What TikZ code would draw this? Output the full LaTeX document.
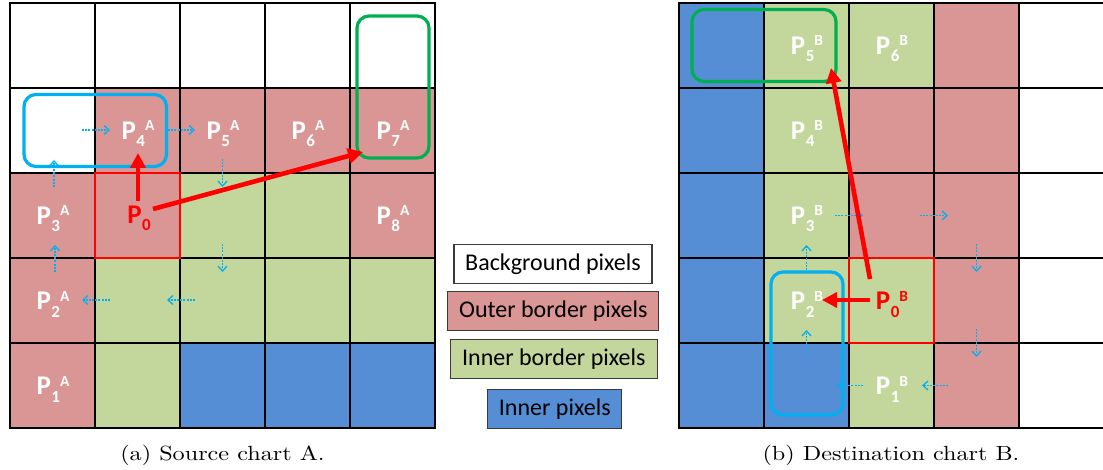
\documentclass[tikz,border=0pt]{standalone}
\usepackage{fontspec}
\newfontfamily\carl{Carlito}
\newfontfamily\lmten{lmroman10-regular.otf}
\usetikzlibrary{arrows.meta}
\definecolor{cR}{HTML}{D99694}
\definecolor{cG}{HTML}{C3D69B}
\definecolor{cB}{HTML}{558ED5}
\definecolor{cW}{HTML}{FFFFFF}
\definecolor{cyanb}{HTML}{00B0F0}
\definecolor{greenb}{HTML}{00B050}
\definecolor{redb}{HTML}{FF0000}
\definecolor{legedge}{HTML}{3A3A3A}
\newcommand\plab[2]{{\fontsize{27}{27}\selectfont P}\kern0.5pt\raisebox{-7.5pt}{\fontsize{17}{17}\selectfont #1}\raisebox{8.5pt}{\fontsize{15.5}{15.5}\selectfont #2}}
\newcommand\cellrow[7]{%
  \fill[#3] (#1,#2) rectangle ++(85,85);
  \fill[#4] (#1+85,#2) rectangle ++(85,85);
  \fill[#5] (#1+170,#2) rectangle ++(85,85);
  \fill[#6] (#1+255,#2) rectangle ++(85,85);
  \fill[#7] (#1+340,#2) rectangle ++(85,85);}
\begin{document}
\begin{tikzpicture}[x=1pt,y=-1pt,
  lab/.style={anchor=base, inner sep=0pt, text=white, font=\carl\bfseries},
  labred/.style={anchor=base, inner sep=0pt, text=redb, font=\carl\bfseries},
  gridline/.style={line width=2.4pt, black, line cap=rect},
  redbox/.style={draw=redb, line width=2pt},
  redarrow/.style={redb, line width=4.6pt, -{Triangle[length=15pt,width=15pt]}},
  cyanarrow/.style={cyanb, line width=1.7pt, dash pattern=on 2pt off 1.2pt, -{Straight Barb[length=5pt,width=9pt,line width=1.3pt]}},
  rbox/.style={line width=3.2pt, rounded corners=12pt},
  legbox/.style={draw=legedge, line width=1.1pt, inner sep=0pt, minimum height=39pt, font=\carl\fontsize{24}{24}\selectfont, text=black},
  capt/.style={anchor=base, inner sep=0pt, font=\lmten\fontsize{20.5}{24}\selectfont}
]
\useasboundingbox (0,0) rectangle (1103,470);
\fill[white] (0,0) rectangle (1103,470);
% ---- left grid cells
\cellrow{10}{3}{cW}{cW}{cW}{cW}{cW}
\cellrow{10}{88}{cW}{cR}{cR}{cR}{cR}
\cellrow{10}{173}{cR}{cR}{cG}{cG}{cR}
\cellrow{10}{258}{cR}{cG}{cG}{cG}{cG}
\cellrow{10}{343}{cR}{cG}{cB}{cB}{cB}
% ---- right grid cells
\cellrow{679}{3}{cB}{cG}{cG}{cR}{cW}
\cellrow{679}{88}{cB}{cG}{cR}{cR}{cW}
\cellrow{679}{173}{cB}{cG}{cR}{cR}{cW}
\cellrow{679}{258}{cB}{cG}{cG}{cR}{cW}
\cellrow{679}{343}{cB}{cB}{cG}{cR}{cW}
% ---- grid lines
\foreach \k in {0,...,5}{
  \draw[gridline] (10+85*\k,3) -- (10+85*\k,428);
  \draw[gridline] (10,3+85*\k) -- (435,3+85*\k);
  \draw[gridline] (679,3+85*\k) -- (1110,3+85*\k);
}
\foreach \k in {0,...,4}{
  \draw[gridline] (679+85*\k,3) -- (679+85*\k,428);
}
% ---- red outline cells
\draw[redbox] (95,173) rectangle (180,258);
\draw[redbox] (849,258) rectangle (934,343);
% ---- labels left
\node[lab] (p4a) at (138,139.5) {\plab{4}{A}};
\node[lab] (p5a) at (223,139.5) {\plab{5}{A}};
\node[lab] (p6a) at (308,139.5) {\plab{6}{A}};
\node[lab] (p7a) at (393,139.5) {\plab{7}{A}};
\node[lab] (p3a) at (53,224.5) {\plab{3}{A}};
\node[labred] (p0a) at (139,223.5) {\plab{0}{}};
\node[lab] (p8a) at (393,224.5) {\plab{8}{A}};
\node[lab] (p2a) at (53,309.5) {\plab{2}{A}};
\node[lab] (p1a) at (53,394.5) {\plab{1}{A}};
% ---- labels right
\node[lab] (p5b) at (807,54.5) {\plab{5}{B}};
\node[lab] (p6b) at (892,54.5) {\plab{6}{B}};
\node[lab] (p4b) at (807,139.5) {\plab{4}{B}};
\node[lab] (p3b) at (807,224.5) {\plab{3}{B}};
\node[lab] (p2b) at (807,309.5) {\plab{2}{B}};
\node[labred] (p0b) at (892,309.5) {\plab{0}{B}};
\node[lab] (p1b) at (892,394.5) {\plab{1}{B}};
% ---- cyan dotted arrows (left)
\coordinate (la1) at (82,130);  \coordinate (lb1) at (110,130);
\coordinate (la2) at (168,130); \coordinate (lb2) at (195,130);
\coordinate (la3) at (222.5,159); \coordinate (lb3) at (222.5,187);
\coordinate (la4) at (54,187);  \coordinate (lb4) at (54,160);
\coordinate (la5) at (55,272);  \coordinate (lb5) at (55,245);
\coordinate (la6) at (222.5,244); \coordinate (lb6) at (222.5,272);
\coordinate (la7) at (110,300); \coordinate (lb7) at (82,300);
\coordinate (la8) at (195,300); \coordinate (lb8) at (167,300);
\foreach \i in {1,...,8}{\draw[cyanarrow] (la\i) -- (lb\i);}
% ---- cyan dotted arrows (right)
\coordinate (ra1) at (835,215.5); \coordinate (rb1) at (863,215.5);
\coordinate (ra2) at (920,215.5); \coordinate (rb2) at (948,215.5);
\coordinate (ra3) at (976.5,244); \coordinate (rb3) at (976.5,272);
\coordinate (ra4) at (976.5,329); \coordinate (rb4) at (976.5,357);
\coordinate (ra5) at (948,385.5); \coordinate (rb5) at (922,385.5);
\coordinate (ra6) at (863,385.5); \coordinate (rb6) at (837,385.5);
\coordinate (ra7) at (806.5,357); \coordinate (rb7) at (806.5,330);
\coordinate (ra8) at (806.5,270); \coordinate (rb8) at (806.5,245);
\foreach \i in {1,...,8}{\draw[cyanarrow] (ra\i) -- (rb\i);}
% ---- rounded boxes
\draw[rbox, cyanb] (24,94.5) rectangle (166.5,166.5);
\draw[rbox, greenb] (357,16) rectangle (429,158);
\draw[rbox, greenb] (692,9.5) rectangle (836,81.5);
\draw[rbox, cyanb] (771,272) rectangle (843,415);
% ---- red arrows
\coordinate (s1) at (138,201); \coordinate (t1) at (138,153);
\coordinate (s2) at (153,209); \coordinate (t2) at (363,152);
\coordinate (s3) at (870,279); \coordinate (t3) at (831,68);
\coordinate (s4) at (870,300); \coordinate (t4) at (822,300);
\draw[redarrow] (s1) -- (t1);
\draw[redarrow] (s2) -- (t2);
\draw[redarrow] (s3) -- (t3);
\draw[redarrow] (s4) -- (t4);
% ---- legend
\node[legbox, fill=white, minimum width=198pt] (lg1) at (553,264) {Background pixels};
\node[legbox, fill=cR, minimum width=211pt] (lg2) at (553.3,311) {Outer border pixels};
\node[legbox, fill=cG, minimum width=207pt] (lg3) at (553.8,359.4) {Inner border pixels};
\node[legbox, fill=cB, minimum width=134pt] (lg4) at (554.8,408.8) {Inner pixels};
% ---- captions
\node[capt] (capa) at (222.5,460.5) {\scalebox{1.18}[1]{(a) Source chart A.}};
\node[capt] (capb) at (891,460.5) {\scalebox{1.18}[1]{(b) Destination chart B.}};
\end{tikzpicture}
\end{document}
